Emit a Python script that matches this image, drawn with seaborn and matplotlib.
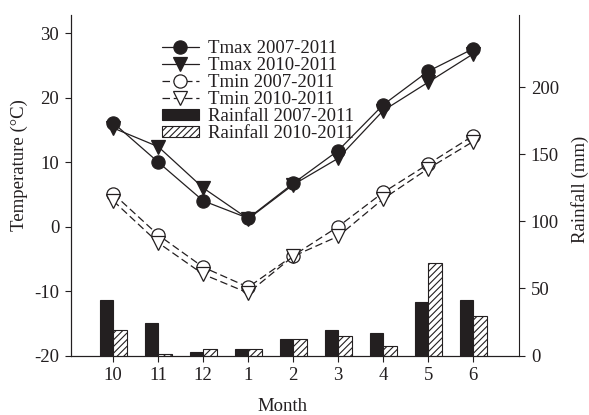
import numpy as np
import pandas as pd
import matplotlib
matplotlib.use("Agg")
import matplotlib.pyplot as plt
import seaborn as sns

# Monthly climate data, October through June
months = ["10", "11", "12", "1", "2", "3", "4", "5", "6"]
tmax_0711 = [16.1, 10.0, 4.0, 1.3, 6.7, 11.8, 18.9, 24.1, 27.6]
tmax_1011 = [15.3, 12.4, 6.0, 1.2, 6.5, 10.6, 18.0, 22.4, 26.8]
tmin_0711 = [5.1, -1.3, -6.3, -9.4, -4.5, 0.0, 5.3, 9.7, 14.1]
tmin_1011 = [4.0, -2.5, -7.4, -10.3, -4.6, -1.5, 4.3, 9.0, 13.2]
rain_0711 = [41.2, 24.3, 2.5, 4.7, 12.2, 18.9, 16.6, 39.7, 41.2]
rain_1011 = [18.9, 1.0, 4.9, 4.9, 12.3, 14.2, 7.4, 69.3, 29.8]

series_labels = ["Tmax 2007-2011", "Tmax 2010-2011", "Tmin 2007-2011",
                 "Tmin 2010-2011", "Rainfall 2007-2011", "Rainfall 2010-2011"]
temp_ticks = [-20, -10, 0, 10, 20, 30]
rain_ticks = [0, 50, 100, 150, 200]

INK = "#231f20"

sns.set_style("ticks")
plt.rcParams["font.family"] = ["Liberation Serif", "DejaVu Serif"]
plt.rcParams.update({
    "font.size": 13,
    "text.color": INK,
    "axes.labelcolor": INK,
    "axes.edgecolor": INK,
    "axes.linewidth": 0.8,
    "axes.unicode_minus": False,
    "xtick.color": INK,
    "ytick.color": INK,
    "hatch.linewidth": 0.8,
    "hatch.color": INK,
})

fig = plt.figure(figsize=(5.89, 4.15), dpi=100)
ax = fig.add_axes([71 / 589, 1 - 355.5 / 415, 448 / 589, 340.5 / 415])
ax2 = ax.twinx()

pos = np.arange(len(months))

# Rainfall bars on the right-hand axis
rain_df = pd.DataFrame({
    "month": months * 2,
    "rain": rain_0711 + rain_1011,
    "period": [series_labels[4]] * len(months) + [series_labels[5]] * len(months),
})
sns.barplot(data=rain_df, x="month", y="rain", hue="period", order=months,
            hue_order=series_labels[4:], palette=[INK, "white"], saturation=1,
            edgecolor=INK, linewidth=0.8, width=0.6, gap=0, errorbar=None,
            legend=False, ax=ax2)
for patch in ax2.containers[1].patches:
    patch.set_hatch("/////")

# Temperature lines on the left-hand axis
line_specs = [
    (tmax_0711, series_labels[0], "o", INK, "-"),
    (tmax_1011, series_labels[1], "v", INK, "-"),
    (tmin_0711, series_labels[2], "o", "white", (0, (6, 3))),
    (tmin_1011, series_labels[3], "v", "white", (0, (6, 3))),
]
# open triangles sit on top of the open circles
for vals, lab, mk, face, ls in [line_specs[1], line_specs[0], line_specs[2], line_specs[3]]:
    sns.lineplot(x=pos, y=vals, ax=ax, color=INK, marker=mk, markersize=9.5,
                 markerfacecolor=face, markeredgecolor=INK, markeredgewidth=0.9,
                 linewidth=0.9, linestyle=ls, label=lab, legend=False)

line_by_label = {ln.get_label(): ln for ln in ax.get_lines()}
handles = [line_by_label[l] for l in series_labels[:4]] + [
    ax2.containers[0].patches[0], ax2.containers[1].patches[0]]

ax.set_xlim(-0.94, 9.02)
ax.set_ylim(-20, 32.84)
ax2.set_ylim(0, 253.8)
ax.set_xticks(pos, months)
ax.set_yticks(temp_ticks)
ax2.set_yticks(rain_ticks)

for a in (ax, ax2):
    a.tick_params(direction="out", length=4.5, width=0.8, labelsize=13.5, pad=4)
    a.spines["top"].set_visible(False)
ax.spines["right"].set_visible(False)

ax.set_xlabel("Month", fontsize=13.5)
ax.set_ylabel("Temperature (\u00b0C)", fontsize=13.5)
ax2.set_ylabel("Rainfall (mm)", fontsize=13.5)
ax.xaxis.set_label_coords(0.471, -0.124)
ax.yaxis.set_label_coords(-0.096, 0.56)
ax2.yaxis.set_label_coords(1.116, 0.489)

ax2.legend(handles, series_labels, loc="upper left",
           bbox_to_anchor=(161.7 / 589, 1 - 40 / 415), bbox_transform=fig.transFigure,
           frameon=False, fontsize=13.5, borderpad=0, borderaxespad=0,
           handlelength=2.0, handletextpad=0.45, handleheight=0.48,
           labelspacing=0.0, numpoints=1)

fig.savefig("out.png", dpi=100)
